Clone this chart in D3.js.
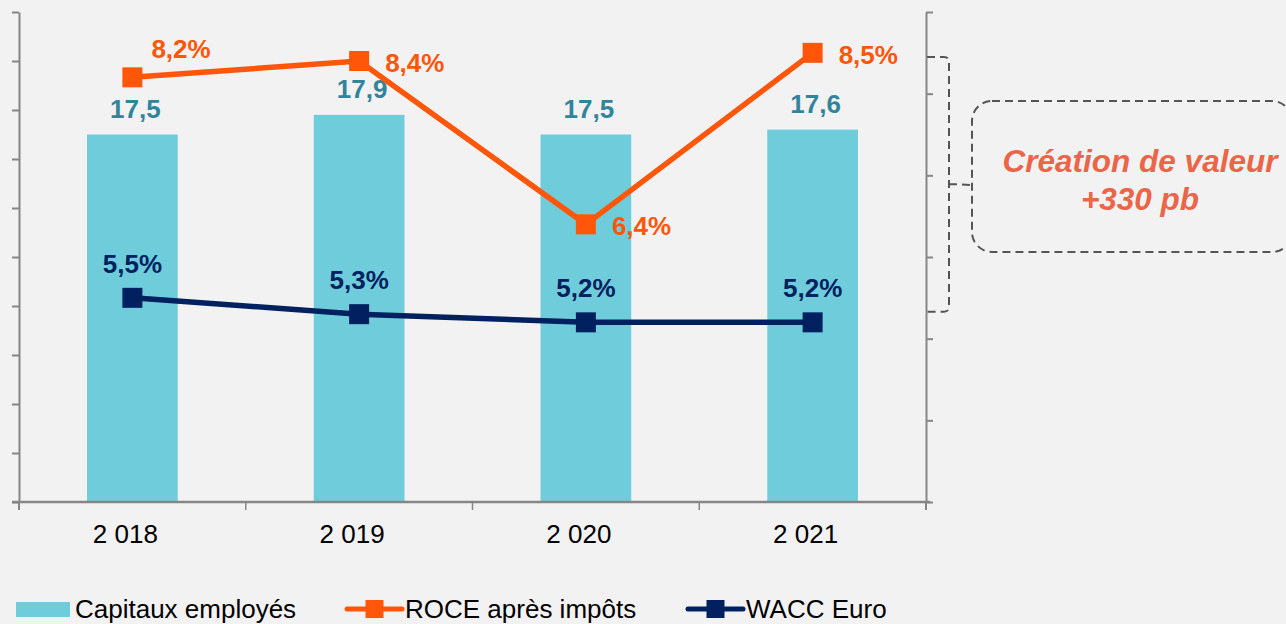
<!DOCTYPE html>
<html><head><meta charset="utf-8">
<script src="https://cdn.jsdelivr.net/npm/d3@7"></script>
<style>
html,body{margin:0;padding:0;background:#F2F2F2;}
svg{display:block;font-family:"Liberation Sans",Arial,sans-serif;}
</style></head>
<body><svg id="c" width="1286" height="624"></svg>
<script>
const categories = ["2 018", "2 019", "2 020", "2 021"];
const capitaux = [17.5, 17.9, 17.5, 17.6];
const capitauxLabels = ["17,5", "17,9", "17,5", "17,6"];
const roce = [8.2, 8.4, 6.4, 8.5];
const roceLabels = ["8,2%", "8,4%", "6,4%", "8,5%"];
const wacc = [5.5, 5.3, 5.2, 5.2];
const waccLabels = ["5,5%", "5,3%", "5,2%", "5,2%"];
const leftDomain = [10, 20];
const rightDomain = [3, 9];
const seriesNames = ["Capitaux employés", "ROCE après impôts", "WACC Euro"];
const annotationLines = ["Création de valeur", "+330 pb"];
const roceLabelPlacement = ["above", "right", "right", "right"];

const C_BAR = "#6FCDDB", C_BARLBL = "#31849B", C_ROCE = "#FF560A", C_WACC = "#002060",
      C_AXIS = "#868686", C_ANN = "#EC6549", C_DASH = "#555555";

const svg = d3.select("#c");
const L = 19, R = 926, T = 12, B = 502;

const x = d3.scaleBand().domain(categories).range([L, R]).padding(0);
const yL = d3.scaleLinear().domain(leftDomain).range([B, T]);
const yR = d3.scaleLinear().domain(rightDomain).range([B, T]);
const cx = c => x(c) + x.bandwidth() / 2;
const barW = x.bandwidth() * 0.4;

// bars
svg.append("g").selectAll("rect").data(categories).join("rect")
  .attr("x", c => cx(c) - barW / 2)
  .attr("y", (c, i) => yL(capitaux[i]))
  .attr("width", barW)
  .attr("height", (c, i) => B - yL(capitaux[i]))
  .attr("fill", C_BAR);

// axes
function styleAxis(g) {
  g.selectAll("path").attr("stroke", C_AXIS).attr("stroke-width", 2);
  g.selectAll("line").attr("stroke", C_AXIS).attr("stroke-width", 2);
  g.selectAll("text").remove();
}
svg.append("g").attr("transform", `translate(${L},0)`)
  .call(d3.axisLeft(yL).ticks(10).tickSize(7).tickSizeOuter(0))
  .call(styleAxis);
svg.append("g").attr("transform", `translate(${R},0)`)
  .call(d3.axisRight(yR).ticks(6).tickSize(7).tickSizeOuter(0))
  .call(styleAxis);
svg.append("line").attr("x1", L).attr("x2", L).attr("y1", B).attr("y2", B + 8).attr("stroke", C_AXIS).attr("stroke-width", 2);
svg.append("line").attr("x1", R).attr("x2", R).attr("y1", B).attr("y2", B + 8).attr("stroke", C_AXIS).attr("stroke-width", 2);

// x axis
const xg = svg.append("g");
xg.append("line").attr("x1", L - 7).attr("x2", R + 4).attr("y1", B).attr("y2", B)
  .attr("stroke", C_AXIS).attr("stroke-width", 2.5);
xg.selectAll("line.tk").data(categories.slice(1)).join("line").attr("class", "tk")
  .attr("x1", c => x(c)).attr("x2", c => x(c)).attr("y1", B).attr("y2", B + 8)
  .attr("stroke", C_AXIS).attr("stroke-width", 1.5);
xg.selectAll("text").data(categories).join("text")
  .attr("x", c => cx(c) - 7).attr("y", 543).attr("text-anchor", "middle")
  .attr("font-size", 26).attr("fill", "#000").text(c => c);

// bar labels
svg.append("g").selectAll("text").data(categories).join("text")
  .attr("x", c => cx(c) + 3).attr("y", (c, i) => yL(capitaux[i]) - 17)
  .attr("text-anchor", "middle").attr("font-size", 26).attr("font-weight", "bold")
  .attr("fill", C_BARLBL).text((c, i) => capitauxLabels[i]);

// lines
function drawLine(vals, color) {
  const line = d3.line().x((d, i) => cx(categories[i])).y(d => yR(d));
  svg.append("path").datum(vals).attr("d", line).attr("fill", "none")
    .attr("stroke", color).attr("stroke-width", 5.5).attr("stroke-linejoin", "miter");
  svg.append("g").selectAll("rect").data(vals).join("rect")
    .attr("x", (d, i) => cx(categories[i]) - 10).attr("y", d => yR(d) - 10)
    .attr("width", 20).attr("height", 20).attr("fill", color);
}
drawLine(roce, C_ROCE);
drawLine(wacc, C_WACC);

svg.append("g").selectAll("text").data(roce).join("text")
  .attr("x", (d, i) => cx(categories[i]) + (roceLabelPlacement[i] === "above" ? 19 : 26))
  .attr("y", (d, i) => yR(d) + (roceLabelPlacement[i] === "above" ? -19 : 11))
  .attr("font-size", 26).attr("font-weight", "bold").attr("fill", C_ROCE)
  .text((d, i) => roceLabels[i]);

svg.append("g").selectAll("text").data(wacc).join("text")
  .attr("x", (d, i) => cx(categories[i])).attr("y", d => yR(d) - 25)
  .attr("text-anchor", "middle")
  .attr("font-size", 26).attr("font-weight", "bold").attr("fill", C_WACC)
  .text((d, i) => waccLabels[i]);

// annotation bracket
const bTop = yR(8.45), bBot = yR(5.33), bx = 949, r = 5;
const bMid = 184;
svg.append("path")
  .attr("d", `M${R + 1},${bTop} L${bx - r},${bTop} Q${bx},${bTop} ${bx},${bTop + r} L${bx},${bBot - r} Q${bx},${bBot} ${bx - r},${bBot} L${R + 1},${bBot}
             M${bx},${bMid} L${972},${bMid + 1}`)
  .attr("fill", "none").attr("stroke", C_DASH).attr("stroke-width", 2).attr("stroke-dasharray", "8,5");
svg.append("rect").attr("x", 972).attr("y", 101).attr("width", 320).attr("height", 151)
  .attr("rx", 20).attr("ry", 20)
  .attr("fill", "none").attr("stroke", C_DASH).attr("stroke-width", 2).attr("stroke-dasharray", "8,5");
svg.append("g").selectAll("text").data(annotationLines).join("text")
  .attr("x", 1140).attr("y", (d, i) => 172 + i * 38).attr("text-anchor", "middle")
  .attr("font-size", 31.5).attr("font-weight", "bold").attr("font-style", "italic")
  .attr("fill", C_ANN).text(d => d);

// legend
const lg = svg.append("g");
lg.append("rect").attr("x", 16).attr("y", 602).attr("width", 54).attr("height", 15).attr("fill", C_BAR);
lg.append("text").attr("x", 75).attr("y", 618).attr("font-size", 26).attr("fill", "#000").text(seriesNames[0]);
[[347, C_ROCE, 405, seriesNames[1]], [688, C_WACC, 746, seriesNames[2]]].forEach(([x0, col, tx, name]) => {
  lg.append("line").attr("x1", x0).attr("x2", x0 + 55).attr("y1", 609).attr("y2", 609)
    .attr("stroke", col).attr("stroke-width", 5).attr("stroke-linecap", "round");
  lg.append("rect").attr("x", x0 + 18.5).attr("y", 600).attr("width", 18).attr("height", 18).attr("fill", col);
  lg.append("text").attr("x", tx).attr("y", 618).attr("font-size", 26).attr("fill", "#000").text(name);
});
</script></body></html>
